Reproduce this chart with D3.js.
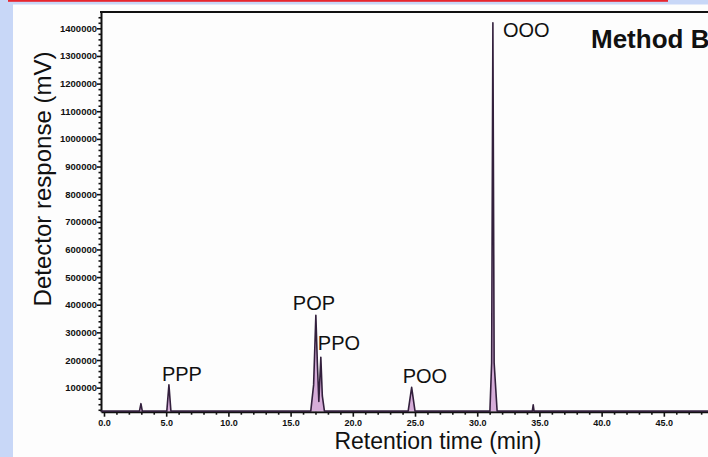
<!DOCTYPE html>
<html>
<head>
<meta charset="utf-8">
<script src="https://cdn.jsdelivr.net/npm/d3@7"></script>
<style>
  html, body { margin: 0; padding: 0; background: #c8d7f7; }
  svg { display: block; }
</style>
</head>
<body>
<svg id="chart" width="708" height="457"></svg>
<script>
// ---------------- DATA ----------------
const retentionTime = [-0.24, 2.85, 2.97, 3.08, 5.05, 5.22, 5.38, 16.62, 16.85, 17.03, 17.15, 17.27, 17.43, 17.55, 17.72,
  24.45, 24.73, 25.0, 31.02, 31.16, 31.26, 31.36, 31.6, 34.43, 34.5, 34.57, 48.55];
const response = [15000, 15000, 42000, 15000, 15000, 110000, 15000, 15000, 110000, 362000, 190000, 50000, 210000, 70000, 15000,
  15000, 101000, 15000, 15000, 190000, 1420000, 190000, 15000, 15000, 38000, 15000, 15000];

const peakNames = ["PPP", "POP", "PPO", "POO", "OOO"];
const peakTimes = [5.22, 17.03, 17.43, 24.73, 31.26];
const peakValues = [110000, 362000, 210000, 101000, 1420000];

const xTickValues = [0, 5, 10, 15, 20, 25, 30, 35, 40, 45];
const xTickLabels = ["0.0", "5.0", "10.0", "15.0", "20.0", "25.0", "30.0", "35.0", "40.0", "45.0"];
const yTickValues = [100000, 200000, 300000, 400000, 500000, 600000, 700000, 800000, 900000, 1000000, 1100000, 1200000, 1300000, 1400000];
const yTickLabels = ["100000", "200000", "300000", "400000", "500000", "600000", "700000", "800000", "900000", "1000000", "1100000", "1200000", "1300000", "1400000"];

const xTitle = "Retention time (min)";
const yTitle = "Detector response (mV)";
const methodTitle = "Method B";

// ---------------- LAYOUT ----------------
const svg = d3.select("#chart");
const W = 708, H = 457;
const mLeft = 101, mRight = 708, mTop = 12, mBottom = 411.7;

// backgrounds
svg.append("rect").attr("x", 0).attr("y", 0).attr("width", W).attr("height", H).attr("fill", "#c8d7f7");
svg.append("rect").attr("x", 13).attr("y", 4.5).attr("width", W - 13).attr("height", H - 4.5).attr("fill", "#fdfdfd");
svg.append("rect").attr("x", 8).attr("y", 0).attr("width", 660).attr("height", 1.8).attr("fill", "#e8262e");

const x = d3.scaleLinear().domain([-0.24, 48.55]).range([mLeft, mRight]);
const y = d3.scaleLinear().domain([13000, 1459000]).range([mBottom, mTop]);

const font = "'Liberation Sans', Arial, Helvetica, sans-serif";

// minor ticks
const xMinor = d3.range(0, 49, 1).filter(v => v % 5 !== 0);
const yMinor = d3.range(20000, 1450000, 20000).filter(v => v % 100000 !== 0);

const gxMinor = svg.append("g").attr("transform", `translate(0,${mBottom})`)
  .call(d3.axisBottom(x).tickValues(xMinor).tickSize(3).tickFormat(""));
gxMinor.select(".domain").remove();
gxMinor.selectAll("line").attr("stroke", "#111").attr("stroke-width", 1.6);

const gyMinor = svg.append("g").attr("transform", `translate(${mLeft},0)`)
  .call(d3.axisLeft(y).tickValues(yMinor).tickSize(2.5).tickFormat(""));
gyMinor.select(".domain").remove();
gyMinor.selectAll("line").attr("stroke", "#111").attr("stroke-width", 1.6);

// major axes
const gx = svg.append("g").attr("transform", `translate(0,${mBottom})`)
  .call(d3.axisBottom(x).tickValues(xTickValues).tickSize(5).tickPadding(3)
    .tickFormat((d, i) => xTickLabels[i]).tickSizeOuter(0));
gx.select(".domain").attr("stroke", "#111").attr("stroke-width", 2);
gx.selectAll("line").attr("stroke", "#111").attr("stroke-width", 1.6);
gx.selectAll("text").attr("font-family", font).attr("font-size", 9).attr("font-weight", "bold").attr("fill", "#111");

const gy = svg.append("g").attr("transform", `translate(${mLeft},0)`)
  .call(d3.axisLeft(y).tickValues(yTickValues).tickSize(4).tickPadding(0)
    .tickFormat((d, i) => yTickLabels[i]).tickSizeOuter(0));
gy.select(".domain").attr("stroke", "#111").attr("stroke-width", 2);
gy.selectAll("line").attr("stroke", "#111").attr("stroke-width", 1.6);
gy.selectAll("text").attr("font-family", font).attr("font-size", 9.5).attr("font-weight", "bold").attr("fill", "#111");

// top frame line
svg.append("line").attr("x1", mLeft - 1).attr("x2", mRight).attr("y1", mTop).attr("y2", mTop)
  .attr("stroke", "#111").attr("stroke-width", 2);

// trace
const pts = retentionTime.map((t, i) => [t, response[i]]);
const area = d3.area().x(d => x(d[0])).y0(y(15000)).y1(d => y(d[1]));
const line = d3.line().x(d => x(d[0])).y(d => y(d[1]));
svg.append("path").datum(pts).attr("d", area).attr("fill", "#cf9fd2").attr("opacity", 0.85);
svg.append("path").datum(pts).attr("d", line).attr("fill", "none")
  .attr("stroke", "#33203d").attr("stroke-width", 1.6).attr("stroke-linejoin", "round");

// peak labels (offsets relative to apex, in px)
const labelDx = [-7, -23, -3, -9, 10];
const labelDy = [-4, -5, -7, -4, 14];
svg.append("g").selectAll("text").data(peakNames).join("text")
  .attr("x", (d, i) => x(peakTimes[i]) + labelDx[i])
  .attr("y", (d, i) => y(peakValues[i]) + labelDy[i])
  .attr("font-family", font).attr("font-size", 20).attr("fill", "#111")
  .text(d => d);

// titles
svg.append("text").attr("x", 438).attr("y", 449).attr("text-anchor", "middle")
  .attr("font-family", font).attr("font-size", 23).attr("fill", "#111").text(xTitle);
svg.append("text").attr("transform", "translate(51,179) rotate(-90)").attr("text-anchor", "middle")
  .attr("font-family", font).attr("font-size", 24).attr("fill", "#111").text(yTitle);
svg.append("text").attr("x", 591).attr("y", 48)
  .attr("font-family", font).attr("font-size", 26).attr("font-weight", "bold").attr("fill", "#111").text(methodTitle);
</script>
</body>
</html>
